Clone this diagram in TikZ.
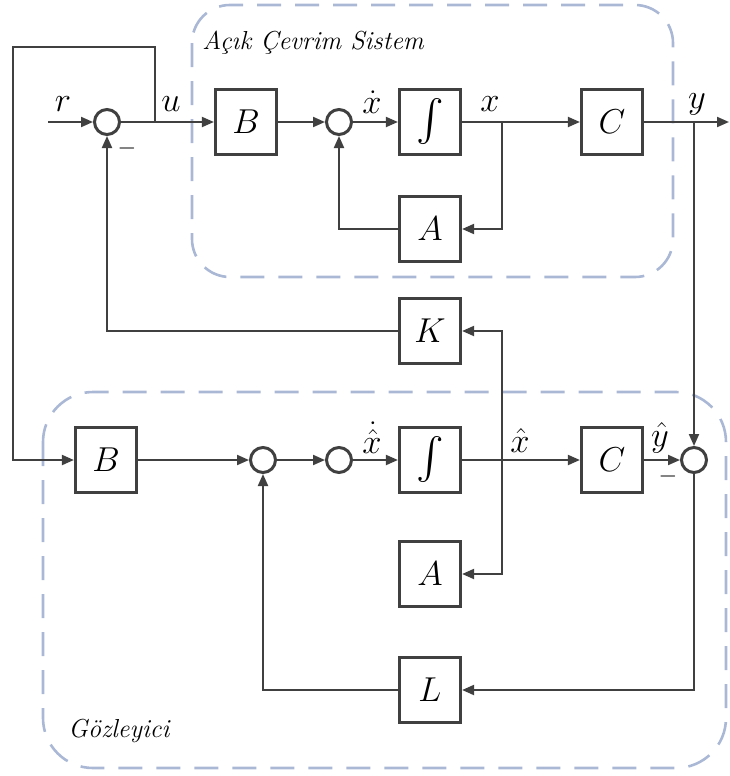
\documentclass[tikz,border=0pt]{standalone}
\usepackage{amsmath}
\usepackage{exscale}
\usepackage{fontspec}
\usetikzlibrary{arrows.meta}
\definecolor{ln}{RGB}{64,64,64}
\definecolor{dsh}{RGB}{170,184,214}
\begin{document}
\begin{tikzpicture}[x=0.5pt,y=-0.5pt,
  blk/.style={draw=ln,line width=1.6pt,minimum width=30.5pt,minimum height=32.5pt,inner sep=0pt,fill=white,font=\fontsize{16}{19}\selectfont},
  intbox/.style={blk,font=\fontsize{22}{24}\selectfont},
  sumc/.style={circle,draw=ln,line width=1.5pt,minimum size=12.5pt,inner sep=0pt,fill=white},
  conn/.style={draw=ln,line width=1pt},
  arr/.style={conn,-{Triangle[length=6pt,width=5pt]}},
  lbl/.style={font=\fontsize{16}{19}\selectfont,inner sep=0pt},
  mns/.style={font=\fontsize{12}{14}\selectfont,inner sep=0pt},
  grp/.style={draw=dsh,line width=1.3pt,dash pattern=on 12pt off 7pt},
  ttl/.style={anchor=west,inner sep=0pt,font=\fontsize{13}{15}\selectfont\itshape}]
\useasboundingbox (0,0) rectangle (729,776);
% group frames
\draw[grp,rounded corners=19pt] (192,5) rectangle (673,277);
\draw[grp,rounded corners=25pt] (43,392) rectangle (726,768);
\node[ttl] (t1) at (202,43) {Açık Çevrim Sistem};
\node[ttl] (t2) at (68,731) {Gözleyici};
% blocks
\node[sumc] (s1) at (107,122) {};
\node[blk] (Bt) at (246,122) {$B$};
\node[sumc] (s2) at (339,122) {};
\node[intbox] (It) at (430,122) {$\int$};
\node[blk] (At) at (430,229) {$A$};
\node[blk] (Ct) at (612,122) {$C$};
\node[blk] (K) at (430,331) {$K$};
\node[blk] (Bb) at (106,460) {$B$};
\node[sumc] (s3) at (263,460) {};
\node[sumc] (s4) at (339,460) {};
\node[intbox] (Ib) at (430,460) {$\int$};
\node[blk] (Ab) at (430,574) {$A$};
\node[blk] (Cb) at (612,460) {$C$};
\node[sumc] (s5) at (694,460) {};
\node[blk] (L) at (430,690) {$L$};
% junctions
\coordinate (rin) at (48,122);
\coordinate (uj) at (155,122);
\coordinate (fbt) at (155,47);
\coordinate (fbl) at (13,47);
\coordinate (xj) at (502,122);
\coordinate (yj) at (694,122);
\coordinate (yout) at (729,122);
\coordinate (xhj) at (502,460);
% connectors
\draw[arr] (rin) -- (s1);
\draw[conn] (s1) -- (uj);
\draw[arr] (uj) -- (Bt);
\draw[arr] (uj) -- (fbt) -- (fbl) |- (Bb);
\draw[arr] (Bt) -- (s2);
\draw[arr] (s2) -- (It);
\draw[conn] (It) -- (xj);
\draw[arr] (xj) -- (Ct);
\draw[arr] (xj) |- (At);
\draw[arr] (At) -| (s2);
\draw[conn] (Ct) -- (yj);
\draw[arr] (yj) -- (yout);
\draw[arr] (yj) -- (s5);
\draw[arr] (K) -| (s1);
\draw[arr] (Bb) -- (s3);
\draw[arr] (s3) -- (s4);
\draw[arr] (s4) -- (Ib);
\draw[conn] (Ib) -- (xhj);
\draw[arr] (xhj) -- (Cb);
\draw[arr] (xhj) |- (K);
\draw[arr] (xhj) |- (Ab);
\draw[arr] (Cb) -- (s5);
\draw[arr] (s5) |- (L);
\draw[arr] (L) -| (s3);
% labels
\node[lbl] (lr) at (63,104) {$r$};
\node[lbl] (lu) at (171,104) {$u$};
\node[mns] (m1) at (127,148) {$-$};
\node[lbl] (lxd) at (372,102) {$\dot{x}$};
\node[lbl] (lx) at (490,104) {$x$};
\node[lbl] (ly) at (697,104) {$y$};
\node[lbl] (lxhd) at (372,438) {$\dot{\hat{x}}$};
\node[lbl] (lxh) at (520,440) {$\hat{x}$};
\node[lbl] (lyh) at (660,438) {$\hat{y}$};
\node[mns] (m2) at (668,476) {$-$};
\end{tikzpicture}
\end{document}
